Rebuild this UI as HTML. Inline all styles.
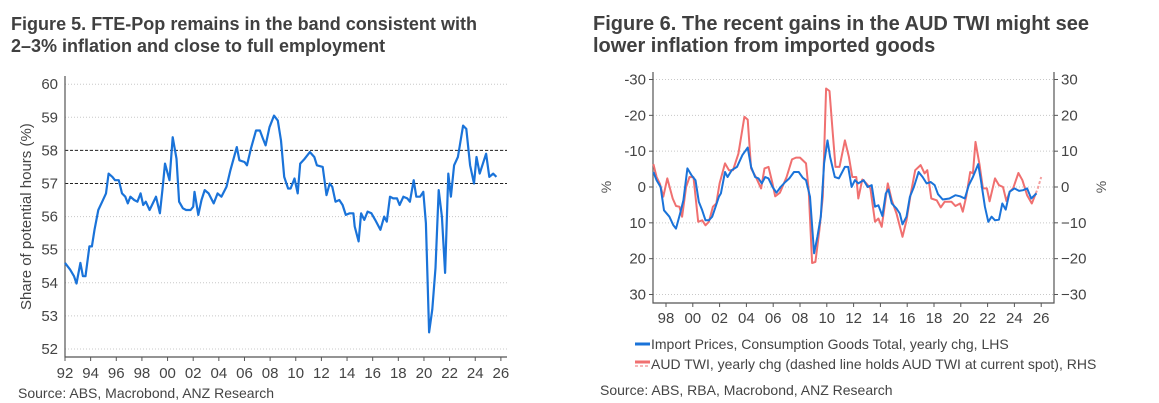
<!DOCTYPE html>
<html><head><meta charset="utf-8">
<style>
html,body{margin:0;padding:0;background:#fff;}
svg{display:block;font-family:"Liberation Sans",Arial,sans-serif;}
</style></head>
<body>
<svg id="root" width="1159" height="403" viewBox="0 0 1159 403" xmlns="http://www.w3.org/2000/svg">
<text x="11" y="30" font-size="18" font-weight="bold" fill="#404040" textLength="466">Figure 5. FTE-Pop remains in the band consistent with</text>
<text x="11" y="52" font-size="18" font-weight="bold" fill="#404040">2–3% inflation and close to full employment</text>
<text x="593" y="30" font-size="20" font-weight="bold" fill="#404040">Figure 6. The recent gains in the AUD TWI might see</text>
<text x="593" y="52" font-size="20" font-weight="bold" fill="#404040">lower inflation from imported goods</text>
<g id="c1"></g>
<g id="c2"></g>
<text x="18" y="398" font-size="14" fill="#444">Source: ABS, Macrobond, ANZ Research</text>
<text x="600" y="395" font-size="14" fill="#444">Source: ABS, RBA, Macrobond, ANZ Research</text>
</svg>
<script>
// Chart 1 data (years relative to 1900)
const c1Years = [92.0,92.4,92.7,92.9,93.2,93.4,93.6,93.9,94.1,94.3,94.6,94.9,95.2,95.4,95.7,95.9,96.2,96.45,96.7,96.9,97.1,97.4,97.65,97.9,98.1,98.3,98.6,98.85,99.1,99.4,99.6,99.8,100.15,100.4,100.7,100.9,101.2,101.45,101.8,102.0,102.1,102.4,102.65,102.9,103.2,103.6,103.9,104.2,104.6,104.9,105.4,105.6,106.0,106.2,106.5,106.9,107.2,107.4,107.65,107.95,108.3,108.6,108.85,109.1,109.4,109.6,109.9,110.15,110.35,110.7,111.1,111.45,111.65,112.1,112.4,112.65,112.85,113.1,113.4,113.65,113.9,114.2,114.5,114.6,114.9,115.1,115.35,115.6,115.9,116.2,116.6,116.9,117.1,117.35,117.6,117.9,118.1,118.4,118.7,118.9,119.2,119.4,119.7,119.95,120.15,120.4,120.65,120.9,121.15,121.4,121.65,121.9,122.1,122.35,122.65,123.05,123.3,123.6,123.9,124.1,124.35,124.85,125.1,125.4,125.65];
const c1Values = [54.6,54.4,54.2,53.98,54.6,54.2,54.2,55.1,55.1,55.6,56.2,56.45,56.7,57.3,57.2,57.1,57.1,56.7,56.6,56.4,56.6,56.5,56.45,56.7,56.35,56.45,56.2,56.4,56.6,56.1,56.8,57.6,57.1,58.4,57.75,56.45,56.25,56.2,56.2,56.3,56.75,56.05,56.5,56.8,56.7,56.4,56.7,56.6,56.9,57.4,58.1,57.7,57.65,57.55,58.05,58.6,58.6,58.4,58.15,58.7,59.05,58.9,58.3,57.2,56.85,56.85,57.15,56.7,57.6,57.75,57.95,57.8,57.55,57.5,56.65,57.0,56.9,56.45,56.5,56.35,56.05,56.1,56.1,55.7,55.25,56.1,55.9,56.15,56.1,55.9,55.6,56.0,55.85,56.6,56.55,56.55,56.35,56.6,56.55,56.45,57.1,56.6,56.6,56.75,55.8,52.5,53.2,54.45,56.8,56.0,54.3,57.3,56.6,57.55,57.8,58.75,58.65,57.55,57.0,57.8,57.3,57.9,57.2,57.3,57.2];
const c1YTicks = [52,53,54,55,56,57,58,59,60];
const c1XTicks = ["92","94","96","98","00","02","04","06","08","10","12","14","16","18","20","22","24","26"];
const c1Bands = [57,58];

// Chart 2 data
const blueYears = [97.06,97.3,97.6,97.85,98.25,98.55,98.75,99.05,99.3,99.6,99.9,100.2,100.45,100.7,100.95,101.2,101.45,101.7,101.95,102.1,102.4,102.6,102.9,103.3,103.7,104.1,104.35,104.65,104.9,105.15,105.4,105.65,105.95,106.25,106.55,106.9,107.2,107.55,107.9,108.2,108.45,108.75,109.05,109.3,109.55,109.8,110.05,110.25,110.6,110.9,111.35,111.6,111.85,112.1,112.35,112.75,113.05,113.35,113.6,113.85,114.15,114.4,114.6,114.85,115.2,115.45,115.65,115.95,116.2,116.5,116.85,117.15,117.45,117.75,118.05,118.3,118.65,119.15,119.6,119.95,120.3,120.6,120.9,121.3,121.5,121.8,122.05,122.3,122.55,122.85,123.1,123.35,123.65,124.0,124.35,124.65,124.95,125.25,125.65];
const blueValues = [-4.2,-1.9,0,6.5,8.3,10.7,11.6,7.4,3.7,-5.2,-3.3,-1.9,4.1,6.5,9.3,9.3,8.3,5.5,2.7,1.8,-4.2,-2.8,-4.7,-5.6,-8.9,-11,-5.6,-2.8,-2.4,-1.0,-2.8,-2.4,0,1.6,0,-1.4,-2.4,-4.2,-4.2,-2.6,-1.9,2.7,18.5,13.9,8.3,-6.6,-13,-8.4,-2.8,-2.4,-5.6,-5.6,0,-1.9,-1.0,-1.9,0,-0.5,5.5,5.1,8.1,1.8,0.7,4.6,6.0,7.4,10.4,8.3,2.7,0,-4.2,-2.8,-1.0,-1.4,-0.5,2.0,3.5,3.2,2.3,2.6,3.2,-0.5,-2.8,-6.4,-1.9,5.5,9.7,8.3,9.3,9.1,4.6,6.3,1.3,0.4,1.1,0.9,0.4,3.2,1.8];
const redYears = [97.06,97.3,97.55,97.8,98.1,98.5,98.75,99.0,99.2,99.5,99.75,100.05,100.4,100.7,100.95,101.2,101.5,101.75,102.0,102.4,102.7,103.0,103.4,103.85,104.1,104.35,104.7,105.1,105.35,105.65,105.95,106.15,106.5,107.0,107.4,107.7,108.0,108.45,108.65,108.9,109.15,109.45,109.7,109.95,110.2,110.45,110.65,110.95,111.35,111.65,111.9,112.2,112.35,112.65,112.95,113.25,113.6,113.85,114.1,114.55,114.85,115.2,115.65,115.95,116.25,116.6,117.0,117.3,117.5,117.8,118.2,118.5,118.8,119.3,119.6,119.95,120.15,120.4,120.7,120.9,121.1,121.4,121.65,121.95,122.15,122.55,122.85,123.15,123.4,123.65,123.9,124.3,124.6,124.95,125.3,125.6];
const redValues = [6.4,2.8,0.8,-2.7,2.4,-3.2,-5.3,-5.5,-8.3,0,2.8,2.7,-9.7,-9.3,-10.7,-9.7,-5.5,-4.6,1.0,6.6,4.7,4.7,9.3,19.6,18.8,5.2,2.8,-0.4,5.2,5.6,1.0,-2.6,-1.6,2.8,7.7,8.2,8.2,6.6,-0.9,-21.2,-20.9,-12.0,-2.7,27.5,26.8,14.9,5.6,5.6,13,8.4,2.8,2.8,-3.2,2.1,1.0,-0.4,-9.7,-8.8,-11.1,1.0,-3.7,-7.4,-13.9,-9.3,-2.3,4.7,6.1,3.8,4.7,-3.2,-3.7,-5.7,-4.1,-4.1,-5.3,-4.6,-6.9,-2.7,4.2,3.8,12.6,6.1,-0.4,-0.4,-4.0,2.4,0.5,0,-3.9,-1.3,-0.4,3.9,1.9,-2.3,-4.6,-1.8];
const dashYears = [125.6,125.75,126.0];
const dashValues = [-1.8,-0.4,2.8];
const lhsTicks = [-30,-20,-10,0,10,20,30];
const rhsTicks = [30,20,10,0,-10,-20,-30];
const c2XTicks = ["98","00","02","04","06","08","10","12","14","16","18","20","22","24","26"];

const NS="http://www.w3.org/2000/svg";
function mk(parent,tag,attrs,text){const e=document.createElementNS(NS,tag);for(const k in attrs)e.setAttribute(k,attrs[k]);if(text!==undefined)e.textContent=text;parent.appendChild(e);return e;}

// ---- Chart 1
const g1=document.getElementById('c1');
const x1=yr=>65+(yr-92)*12.82;
const y1=v=>349-(v-52)*33.1;
const L1=65,R1=507,B1=357;
c1YTicks.forEach(v=>{
  const gl=mk(g1,'line',{x1:L1,x2:R1,y1:y1(v),y2:y1(v),stroke:'#c8c8c8','stroke-width':1,'stroke-dasharray':'1,2'});
  
  
  const t=mk(g1,'text',{x:L1-7,y:y1(v)+5,'text-anchor':'end','font-size':15,fill:'#444'},String(v));
  
  
});
c1Bands.forEach(v=>{
  const b=mk(g1,'line',{x1:L1,x2:R1,y1:y1(v),y2:y1(v),stroke:'#222','stroke-width':1,'stroke-dasharray':'3,2'});
  
  
});
const ax1=mk(g1,'path',{d:`M${L1},76V${B1}H${R1}`,fill:'none',stroke:'#555','stroke-width':1.2});


c1XTicks.forEach((lab,i)=>{
  const xx=x1(92+2*i);
  mk(g1,'line',{x1:xx,x2:xx,y1:B1,y2:B1+4,stroke:'#555'});
  const t=mk(g1,'text',{x:xx,y:B1+21,'text-anchor':'middle','font-size':15,fill:'#444'},lab);
  
  
});
const yt=mk(g1,'text',{x:0,y:0,transform:`translate(31,${y1(56)}) rotate(-90)`,'text-anchor':'middle','font-size':15,fill:'#444'},'Share of potential hours (%)');


const l1=mk(g1,'polyline',{points:c1Years.map((yr,i)=>x1(yr).toFixed(1)+','+y1(c1Values[i]).toFixed(1)).join(' '),fill:'none',stroke:'#1a73d9','stroke-width':2.2,'stroke-linejoin':'round'});



// ---- Chart 2
const g2=document.getElementById('c2');
const x2=yr=>666+(yr-98)*13.4;
const y2=v=>187+v*3.583;
const y2r=v=>187-v*3.583;
const L2=653,R2=1054,B2=303;
lhsTicks.forEach(v=>{
  const gl=mk(g2,'line',{x1:L2,x2:R2,y1:y2(v),y2:y2(v),stroke:'#c8c8c8','stroke-width':1,'stroke-dasharray':'1,2'});
  
  
  const t=mk(g2,'text',{x:L2-7,y:y2(v)+5,'text-anchor':'end','font-size':15,fill:'#444'},v<0?'-'+(-v):String(v));
  
  
  mk(g2,'line',{x1:L2-4,x2:L2,y1:y2(v),y2:y2(v),stroke:'#555'});
});
rhsTicks.forEach(v=>{
  const t=mk(g2,'text',{x:R2+7,y:y2r(v)+5,'font-size':15,fill:'#444'},v<0?'−'+(-v):String(v));
  
  
  mk(g2,'line',{x1:R2,x2:R2+4,y1:y2r(v),y2:y2r(v),stroke:'#555'});
});
const ax2=mk(g2,'path',{d:`M${L2},72V${B2}H${R2}V72`,fill:'none',stroke:'#555','stroke-width':1.2});


c2XTicks.forEach((lab,i)=>{
  const xx=x2(98+2*i);
  mk(g2,'line',{x1:xx,x2:xx,y1:B2,y2:B2+4,stroke:'#555'});
  const t=mk(g2,'text',{x:xx,y:B2+20,'text-anchor':'middle','font-size':15,fill:'#444'},lab);
  
  
});
const pl=mk(g2,'text',{transform:'translate(611,187) rotate(-90)','text-anchor':'middle','font-size':14,fill:'#555'},'%');


const pr=mk(g2,'text',{transform:'translate(1106,187) rotate(-90)','text-anchor':'middle','font-size':14,fill:'#555'},'%');


const rl=mk(g2,'polyline',{points:redYears.map((yr,i)=>x2(yr).toFixed(1)+','+y2r(redValues[i]).toFixed(1)).join(' '),fill:'none',stroke:'#f07070','stroke-width':2,'stroke-linejoin':'round'});


const dl=mk(g2,'polyline',{points:dashYears.map((yr,i)=>x2(yr).toFixed(1)+','+y2r(dashValues[i]).toFixed(1)).join(' '),fill:'none',stroke:'#f4a0a0','stroke-width':2,'stroke-dasharray':'3,2'});


const bl=mk(g2,'polyline',{points:blueYears.map((yr,i)=>x2(yr).toFixed(1)+','+y2(blueValues[i]).toFixed(1)).join(' '),fill:'none',stroke:'#1a73d9','stroke-width':2,'stroke-linejoin':'round'});


const lg=mk(g2,'g',{});


mk(lg,'line',{x1:635,x2:650,y1:344,y2:344,stroke:'#1a73d9','stroke-width':3});
const lt1=mk(lg,'text',{x:651,y:349,'font-size':14,fill:'#444'},'Import Prices, Consumption Goods Total, yearly chg, LHS');


mk(lg,'line',{x1:635,x2:650,y1:362,y2:362,stroke:'#f07070','stroke-width':3});
mk(lg,'line',{x1:635,x2:650,y1:366,y2:366,stroke:'#f4a0a0','stroke-width':1.5,'stroke-dasharray':'3,2'});
const lt2=mk(lg,'text',{x:651,y:369,'font-size':14,fill:'#444'},'AUD TWI, yearly chg (dashed line holds AUD TWI at current spot), RHS');


</script>
</body></html>
